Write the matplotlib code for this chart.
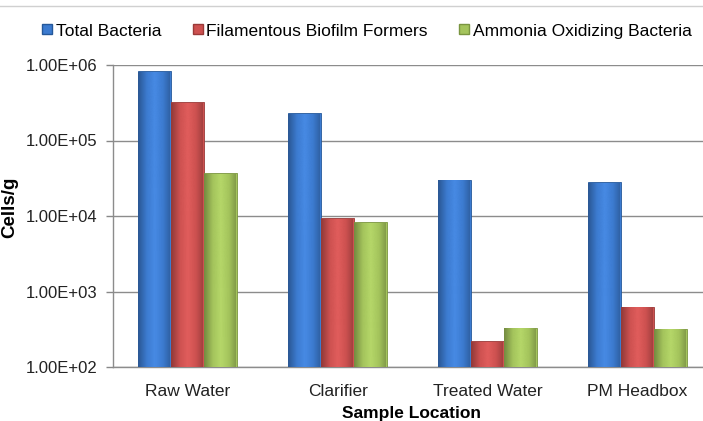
import numpy as np
import matplotlib
matplotlib.use("Agg")
import matplotlib.pyplot as plt
from matplotlib.colors import LinearSegmentedColormap, to_rgb
from matplotlib.lines import Line2D

plt.rcParams['font.family'] = ['Liberation Sans', 'DejaVu Sans']

categories = ["Raw Water", "Clarifier", "Treated Water", "PM Headbox"]
series_names = ["Total Bacteria", "Filamentous Biofilm Formers", "Ammonia Oxidizing Bacteria"]
total_bacteria = [8.3e5, 2.3e5, 3.0e4, 2.8e4]
filamentous = [3.2e5, 9.4e3, 2.2e2, 6.3e2]
ammonia = [3.7e4, 8.3e3, 3.3e2, 3.2e2]
ytick_vals = [1e2, 1e3, 1e4, 1e5, 1e6]
ytick_labels = ["1.00E+02", "1.00E+03", "1.00E+04", "1.00E+05", "1.00E+06"]

colors = ["#3C7BD0", "#CD5150", "#A4C45C"]
edges = ["#25589A", "#9A3A38", "#7A9540"]

fig = plt.figure(figsize=(7.03, 4.21), dpi=100)
ax = fig.add_axes([113/703, 1-367/421, 1-113/703, (367-65)/421])
ax.set_yscale('log')
ax.set_ylim(1e2, 1e6)
x = np.arange(len(categories))
w = 0.22
allvals = [total_bacteria, filamentous, ammonia]
for i, vals in enumerate(allvals):
    pos = x + (i-1)*w
    bars = ax.bar(pos, vals, width=w, color=colors[i], edgecolor=edges[i], linewidth=0.6, zorder=3, label=series_names[i])
    base = np.array(to_rgb(colors[i]))
    dark = base*0.72
    light = np.minimum(base*1.06+0.03, 1)
    cmap = LinearSegmentedColormap.from_list('g', [dark, base, light, base, dark*1.05])
    grad = np.linspace(0, 1, 64).reshape(1, -1)
    for b, p, v in zip(bars, pos, vals):
        im = ax.imshow(grad, cmap=cmap, aspect='auto', extent=(p-w/2, p+w/2, 1e2, v), zorder=3.5, interpolation='bicubic')
        im.set_clip_path(b)
ax.set_xlim(-0.5, 3.44)
ax.set_ylim(1e2, 1e6)
ax.set_xticks(x)
ax.set_xticklabels(categories, fontsize=12.5, color='#222222')
ax.set_yticks(ytick_vals)
ax.set_yticklabels(ytick_labels, fontsize=12, color='#222222')
ax.minorticks_off()
ax.tick_params(axis='x', length=0, pad=12)
ax.tick_params(axis='y', length=5, color='#888888', width=1, pad=6)
ax.grid(axis='y', color='#8C8C8C', linewidth=1, zorder=0)
for s in ['top', 'right']:
    ax.spines[s].set_visible(False)
for s in ['left', 'bottom']:
    ax.spines[s].set_color('#8C8C8C')
    ax.spines[s].set_linewidth(1)
ax.set_ylabel("Cells/g", fontsize=13.5, fontweight='bold')
ax.yaxis.set_label_coords((18-113)/590, (367-207)/302)
ax.set_xlabel("Sample Location", fontsize=12.5, fontweight='bold')
ax.xaxis.set_label_coords((411-113)/590, -(418-367)/302)
ax.xaxis.label.set_va('baseline')

handles = [Line2D([], [], marker='s', linestyle='none', markersize=6.5, markerfacecolor=c, markeredgecolor=e) for c, e in zip(colors, edges)]
fig.legend(handles, series_names, loc='center', bbox_to_anchor=(365/703, 1-31/421), ncol=3, frameon=False,
           fontsize=12.5, handletextpad=0.0, columnspacing=1.6, handlelength=1.0)
fig.add_artist(Line2D([0, 1], [1-6/421, 1-6/421], color='#D0D0D0', linewidth=1, transform=fig.transFigure))
fig.savefig("out.png", dpi=100)
